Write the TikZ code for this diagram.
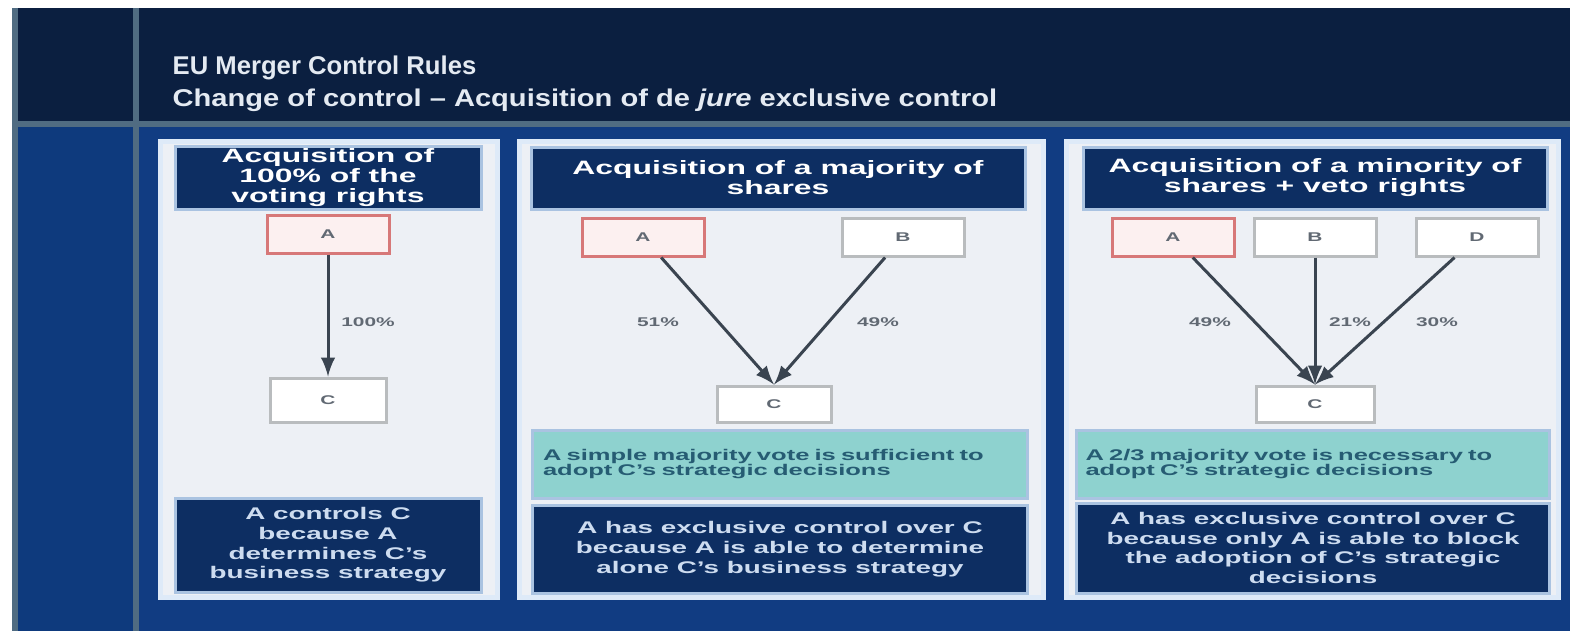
\documentclass[tikz,border=0pt]{standalone}
\usepackage{fontspec}
\setmainfont{Liberation Sans}
\newfontfamily\widesans[FakeStretch=1.65, Ligatures=TeX]{Liberation Sans}
\newfontfamily\midsans[FakeStretch=1.2, Ligatures=TeX]{Liberation Sans}

\definecolor{topnavy}{RGB}{11,31,64}
\definecolor{bodyblue}{RGB}{17,60,130}
\definecolor{stripeblue}{RGB}{14,58,125}
\definecolor{rulegrey}{RGB}{80,108,130}
\definecolor{panelrim}{RGB}{222,234,248}
\definecolor{panelfill}{RGB}{237,240,245}
\definecolor{navybox}{RGB}{13,46,98}
\definecolor{boxrim}{RGB}{170,195,225}
\definecolor{tealfill}{RGB}{142,210,207}
\definecolor{tealtext}{RGB}{38,92,115}
\definecolor{buyerred}{RGB}{215,120,120}
\definecolor{buyerpink}{RGB}{252,240,240}
\definecolor{boxgrey}{RGB}{185,188,190}
\definecolor{linkgrey}{RGB}{58,68,80}
\definecolor{titlewhite}{RGB}{228,234,242}
\definecolor{foottext}{RGB}{205,220,240}

\tikzset{
  headbox/.style={fill=navybox, draw=boxrim, line width=0.3mm, text=white, align=center,
    inner sep=0pt, font={\widesans\bfseries\fontsize{5.5}{5.7}\selectfont}},
  footbox/.style={headbox, text=foottext, font={\widesans\bfseries\fontsize{4.8}{5.6}\selectfont}},
  notebox/.style={fill=tealfill, draw=boxrim, line width=0.3mm, text=tealtext, align=left,
    inner sep=0pt, font={\widesans\bfseries\fontsize{4.4}{4.5}\selectfont}},
  party/.style={fill=white, draw=boxgrey, line width=0.3mm, minimum width=12.2mm,
    minimum height=3.8mm, inner sep=0pt, text=linkgrey!80,
    font={\widesans\bfseries\fontsize{3.6}{4}\selectfont}},
  buyer/.style={party, draw=buyerred, fill=buyerpink},
  pct/.style={text=linkgrey!80, font={\widesans\bfseries\fontsize{3.6}{4}\selectfont}},
  own/.style={draw=linkgrey, line width=0.3mm, -latex},
}

\begin{document}
\begin{tikzpicture}[x=0.1mm, y=-0.1mm]
    \useasboundingbox (0,0) rectangle (1570,631);

    % Slide background
    \fill[white] (0,0) rectangle (1570,631);
    \fill[topnavy] (12,8) rectangle (1570,122);
    \fill[bodyblue] (12,126) rectangle (1570,631);
    \fill[stripeblue] (18,126) rectangle (133,631);
    \fill[rulegrey] (12,121) rectangle (1570,127);
    \fill[rulegrey] (133,8) rectangle (139,631);
    \fill[rulegrey] (12,8) rectangle (18,631);

    % Title
    \node[anchor=base west, inner sep=0pt, text=titlewhite,
          font=\bfseries\fontsize{7.3}{8}\selectfont] (title) at (172,74) {EU Merger Control Rules};
    \node[anchor=base west, inner sep=0pt, text=titlewhite,
          font=\midsans\bfseries\fontsize{6.9}{8}\selectfont] (subtitle) at (172,106)
          {Change of control -- Acquisition of de \emph{jure} exclusive control};

    % Panel frames
    \foreach \l/\r in {160/497, 519/1043, 1066/1558}
      \filldraw[fill=panelfill, draw=panelrim, line width=0.5mm] (\l,141) rectangle (\r,597);

    % Panel 1: 100% of the voting rights
    \node[headbox, minimum width=30.6mm, minimum height=6.3mm] (head1) at (328,178)
      {Acquisition of\\100\% of the\\voting rights};
    \node[buyer] (A1) at (328,234) {A};
    \node[party, minimum width=11.6mm, minimum height=4.4mm] (C1) at (328,400) {C};
    \draw[own] (A1) -- (C1);
    \node[pct] (p1) at (368,322) {100\%};
    \node[footbox, minimum width=30.6mm, minimum height=9.4mm] (foot1) at (328,545)
      {A controls C\\because A\\determines C's\\business strategy};

    % Panel 2: majority of shares
    \node[headbox, minimum width=49.4mm, minimum height=6.2mm] (head2) at (778,178)
      {Acquisition of a majority of\\shares};
    \node[buyer] (A2) at (643,237) {A};
    \node[party] (B2) at (903,237) {B};
    \node[party, minimum width=11.4mm, minimum height=3.6mm] (C2) at (774,404) {C};
    \draw[own] (A2) -- (C2.north);
    \draw[own] (B2) -- (C2.north);
    \node[pct] (p2a) at (658,322) {51\%};
    \node[pct] (p2b) at (878,322) {49\%};
    \node[notebox, minimum width=49.5mm, minimum height=6.8mm, text width=47.4mm] (note2) at (780,464)
      {A simple majority vote is sufficient to\\adopt C's strategic decisions};
    \node[footbox, minimum width=49.5mm, minimum height=8.8mm] (foot2) at (780,549)
      {A has exclusive control over C\\because A is able to determine\\alone C's business strategy};

    % Panel 3: minority of shares + veto rights
    \node[headbox, minimum width=46.4mm, minimum height=6.2mm] (head3) at (1315,178)
      {Acquisition of a minority of\\shares + veto rights};
    \node[buyer] (A3) at (1173,237) {A};
    \node[party] (B3) at (1315,237) {B};
    \node[party] (D3) at (1477,237) {D};
    \node[party, minimum width=11.8mm, minimum height=3.6mm] (C3) at (1315,404) {C};
    \draw[own] (A3) -- (C3.north);
    \draw[own] (B3) -- (C3.north);
    \draw[own] (D3) -- (C3.north);
    \node[pct] (p3a) at (1210,322) {49\%};
    \node[pct] (p3b) at (1350,322) {21\%};
    \node[pct] (p3c) at (1437,322) {30\%};
    \node[notebox, minimum width=47.3mm, minimum height=6.8mm, text width=45.5mm] (note3) at (1313,464)
      {A 2/3 majority vote is necessary to\\adopt C's strategic decisions};
    \node[footbox, minimum width=47.3mm, minimum height=9mm] (foot3) at (1313,548)
      {A has exclusive control over C\\because only A is able to block\\the adoption of C's strategic\\decisions};

\end{tikzpicture}
\end{document}
